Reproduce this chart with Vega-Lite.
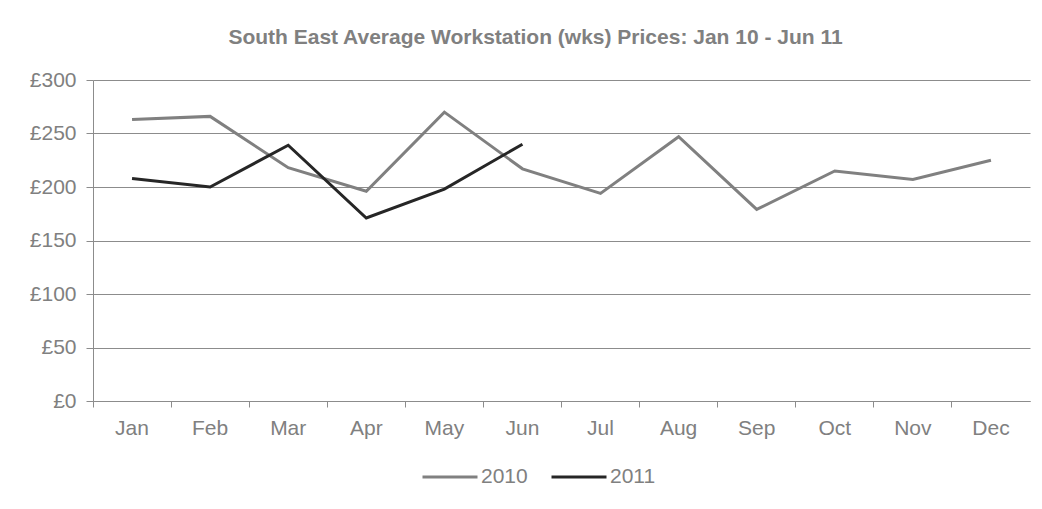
{
  "$schema": "https://vega.github.io/schema/vega-lite/v6.json",
  "autosize": {"type": "none"},
  "width": 937,
  "height": 321,
  "padding": {"left": 93, "top": 80, "right": 12, "bottom": 108},
  "background": "white",
  "config": {
    "font": "Liberation Sans",
    "view": {"stroke": null}
  },
  "title": {
    "text": "South East Average Workstation (wks) Prices: Jan 10 - Jun 11",
    "font": "Liberation Sans",
    "fontSize": 21,
    "fontWeight": "bold",
    "color": "#808080",
    "anchor": "middle",
    "frame": "group",
    "dx": -26,
    "offset": 21
  },
  "data": {
    "values": [
      {"month": "Jan", "year": "2010", "price": 263},
      {"month": "Feb", "year": "2010", "price": 266},
      {"month": "Mar", "year": "2010", "price": 218},
      {"month": "Apr", "year": "2010", "price": 196},
      {"month": "May", "year": "2010", "price": 270},
      {"month": "Jun", "year": "2010", "price": 217},
      {"month": "Jul", "year": "2010", "price": 194},
      {"month": "Aug", "year": "2010", "price": 247},
      {"month": "Sep", "year": "2010", "price": 179},
      {"month": "Oct", "year": "2010", "price": 215},
      {"month": "Nov", "year": "2010", "price": 207},
      {"month": "Dec", "year": "2010", "price": 225},
      {"month": "Jan", "year": "2011", "price": 208},
      {"month": "Feb", "year": "2011", "price": 200},
      {"month": "Mar", "year": "2011", "price": 239},
      {"month": "Apr", "year": "2011", "price": 171},
      {"month": "May", "year": "2011", "price": 198},
      {"month": "Jun", "year": "2011", "price": 240}
    ]
  },
  "mark": {"type": "line", "strokeWidth": 3},
  "encoding": {
    "x": {
      "field": "month",
      "type": "ordinal",
      "sort": ["Jan", "Feb", "Mar", "Apr", "May", "Jun", "Jul", "Aug", "Sep", "Oct", "Nov", "Dec"],
      "scale": {"type": "band", "paddingInner": 0, "paddingOuter": 0},
      "bandPosition": 0.5,
      "axis": {
        "title": null,
        "labelAngle": 0,
        "labelFont": "Liberation Sans",
        "labelFontSize": 21,
        "labelColor": "#808080",
        "labelPadding": 10,
        "bandPosition": 0,
        "ticks": true,
        "tickSize": 6,
        "tickColor": "#8c8c8c",
        "domainColor": "#8c8c8c",
        "grid": false
      }
    },
    "y": {
      "field": "price",
      "type": "quantitative",
      "scale": {"domain": [0, 300], "nice": false},
      "axis": {
        "title": null,
        "values": [0, 50, 100, 150, 200, 250, 300],
        "labelExpr": "'£' + datum.value",
        "labelFont": "Liberation Sans",
        "labelFontSize": 21,
        "labelColor": "#808080",
        "labelPadding": 10,
        "tickSize": 7,
        "tickColor": "#8c8c8c",
        "domainColor": "#8c8c8c",
        "grid": true,
        "gridColor": "#8c8c8c",
        "gridWidth": 1
      }
    },
    "color": {
      "field": "year",
      "type": "nominal",
      "scale": {"domain": ["2010", "2011"], "range": ["#808080", "#262626"]},
      "legend": {
        "title": null,
        "orient": "none",
        "direction": "horizontal",
        "legendX": 328,
        "legendY": 368,
        "symbolType": "stroke",
        "symbolSize": 3025,
        "symbolStrokeWidth": 3,
        "labelFont": "Liberation Sans",
        "labelFontSize": 21,
        "labelColor": "#808080",
        "labelOffset": 2,
        "columnPadding": 17
      }
    }
  }
}
